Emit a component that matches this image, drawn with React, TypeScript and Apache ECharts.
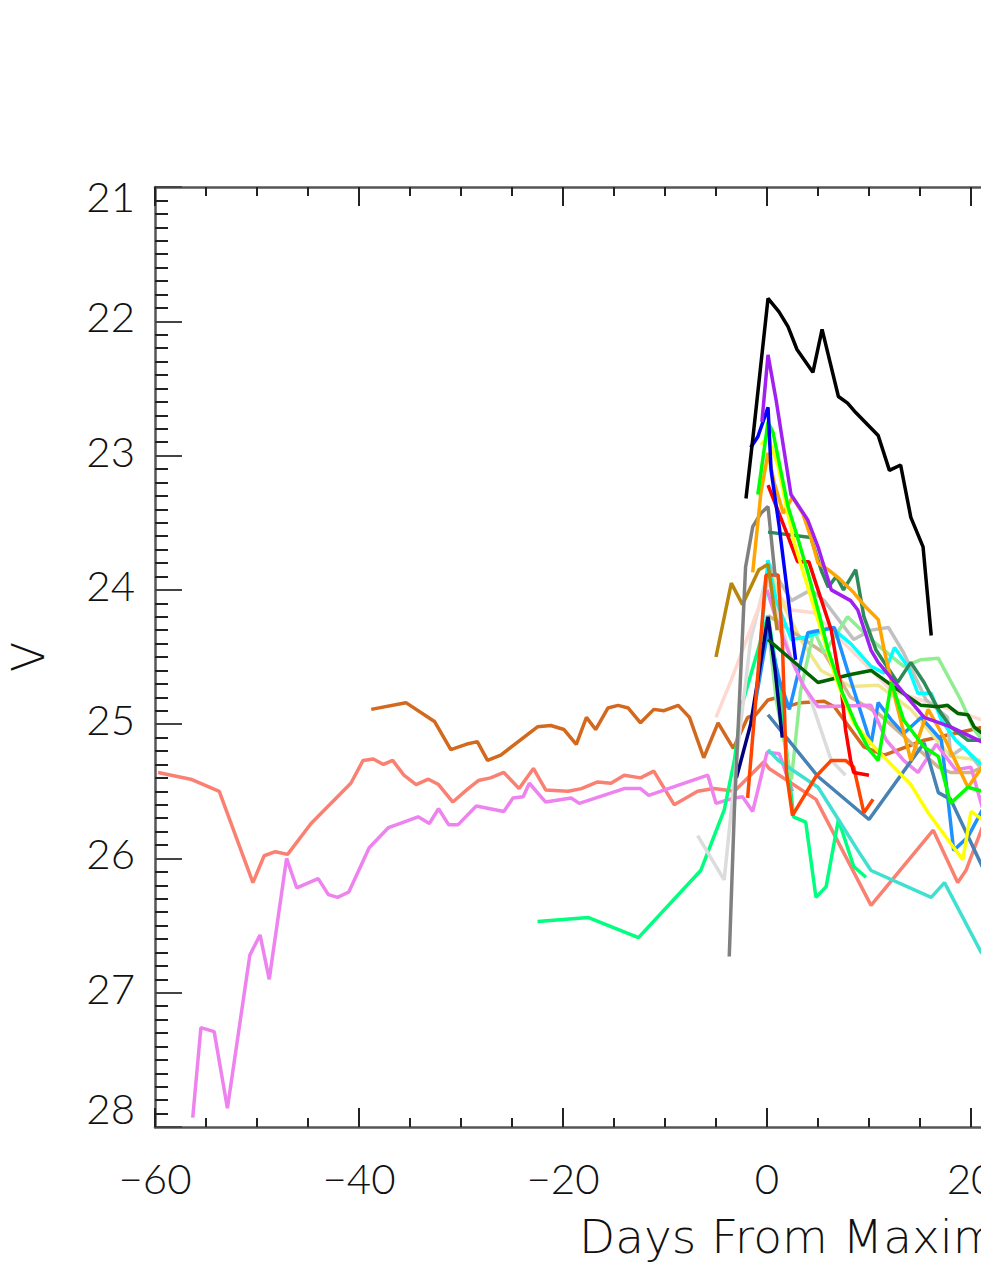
import { useEffect, useRef } from "react";
import * as echarts from "echarts";

// x: days from maximum, y: V magnitude
const xMin = -60;
const xMax = 60;
const yMin = 21;
const yMax = 28;
const xTickLabels = [-60, -40, -20, 0, 20, 40, 60];
const yTickLabels = [21, 22, 23, 24, 25, 26, 27, 28];

const salmon = [[-59.7,25.36],[-56.5,25.41],[-53.7,25.5],[-50.4,26.18],[-49.3,25.98],[-48.2,25.95],[-47.0,25.97],[-44.7,25.74],[-40.8,25.44],[-39.6,25.27],[-38.6,25.26],[-37.6,25.3],[-36.7,25.27],[-35.6,25.38],[-34.4,25.45],[-33.2,25.41],[-32.2,25.45],[-30.8,25.58],[-29.3,25.48],[-28.3,25.42],[-27.1,25.4],[-25.8,25.36],[-24.3,25.48],[-22.9,25.33],[-21.7,25.49],[-19.5,25.5],[-18.2,25.48],[-16.6,25.43],[-15.3,25.44],[-14.0,25.38],[-12.4,25.4],[-11.1,25.35],[-9.1,25.6],[-6.8,25.5],[-5.2,25.48],[-3.2,25.5],[-0.3,25.28],[0.2,25.33],[4.8,25.56],[10.2,26.35],[16.3,25.79],[18.7,26.18],[19.5,26.09],[21.1,25.77],[24,25.6]];
const violet = [[-56.3,27.93],[-55.5,27.26],[-54.2,27.29],[-52.9,27.86],[-50.7,26.72],[-49.7,26.57],[-48.8,26.9],[-47.1,26.0],[-46.1,26.22],[-44.0,26.15],[-43.0,26.27],[-42.1,26.29],[-41.0,26.25],[-39.0,25.92],[-37.1,25.77],[-34.2,25.69],[-33.1,25.74],[-32.2,25.63],[-31.2,25.75],[-30.3,25.75],[-28.5,25.61],[-25.8,25.65],[-24.9,25.55],[-23.9,25.54],[-23.3,25.44],[-21.7,25.58],[-19.2,25.55],[-18.4,25.59],[-14.0,25.48],[-12.4,25.48],[-11.6,25.53],[-5.8,25.38],[-5.0,25.59],[-3.2,25.55],[-2.4,25.54],[-1.4,25.65],[0,25.21],[1.2,25.22],[2.5,25.5]];
const chocolate = [[-38.8,24.89],[-35.4,24.84],[-32.6,24.98],[-31.0,25.19],[-29.5,25.15],[-28.4,25.13],[-27.4,25.27],[-26.1,25.23],[-22.5,25.02],[-21.2,25.01],[-19.9,25.04],[-18.7,25.15],[-17.7,24.95],[-16.8,25.04],[-15.6,24.88],[-14.6,24.86],[-13.6,24.88],[-12.4,24.99],[-11.1,24.89],[-10.1,24.9],[-8.7,24.86],[-7.6,24.95],[-6.2,25.25],[-4.8,24.99],[-3.3,25.18],[-1.9,24.95],[-1.1,24.93],[0.1,24.82],[1.1,24.8],[1.9,24.87],[3.3,24.84],[5.6,24.83],[6.6,24.87],[9.5,25.17],[11.5,25.23],[15.4,25.12],[20.7,25.03],[24,24.98]];
const black = [[-2.06,23.32],[-1.37,22.86],[0.1,21.83],[1.18,21.93],[2.06,22.04],[2.94,22.21],[4.5,22.38],[5.4,22.06],[7.0,22.56],[7.9,22.61],[8.7,22.68],[10.9,22.85],[12.0,23.11],[13.1,23.07],[14.1,23.46],[15.3,23.68],[16.1,24.34]];
const purple = [[-0.5,22.75],[0.1,22.25],[0.9,22.59],[2.35,23.29],[4.0,23.48],[5.0,23.68],[6.3,24.0],[8.2,24.08],[8.9,24.15],[10.2,24.45],[10.9,24.54],[15.4,24.95],[18.0,25.02],[21.0,25.13],[24,25.2]];
const blue = [[-1.6,22.94],[-0.9,22.86],[0.1,22.64],[0.4,23.11],[1.2,23.53],[2.1,24.08],[2.8,24.52]];
const lime = [[-0.9,23.29],[0.1,22.75],[0.6,22.83],[2.06,23.38],[3.0,23.61],[4.0,23.87],[5.0,24.15],[6.0,24.45],[7.3,24.75],[8.7,25.0],[10.0,25.19],[10.9,25.27],[12.2,24.69],[13.4,24.97],[15.4,25.17],[16.8,25.24],[18.0,25.59],[19.7,25.47],[21.1,25.5],[24,25.4]];
const yellow = [[-0.6,22.92],[0.1,22.86],[1.1,23.08],[1.9,23.38],[2.6,23.63],[3.8,23.93],[5.3,24.3],[6.8,24.67],[8.5,24.99],[10.5,25.17],[14.1,25.45],[15.8,25.66],[18.7,25.96],[19.2,26.01],[20.0,25.65],[21.1,25.71],[24,25.6]];
const orange = [[-1.4,23.87],[-0.6,23.28],[0.1,22.98],[0.7,23.2],[1.6,23.43],[2.5,23.31],[3.5,23.43],[4.3,23.61],[5.0,23.8],[6.0,23.85],[7.0,23.91],[8.5,24.02],[9.7,24.13],[10.9,24.22],[11.5,24.45],[12.6,24.82],[14.1,25.27],[15.8,24.89],[17.5,25.12],[19.7,25.47],[21.1,25.32],[24,25.4]];
const red = [[0.1,23.22],[2.1,23.61],[3.0,23.79],[4.1,23.79],[5.0,24.0],[6.3,24.3],[7.3,24.75],[7.7,25.04],[8.2,25.27],[8.5,25.36],[10.0,25.38]];
const orangered = [[-1.9,25.55],[-1.1,24.82],[-0.1,23.89],[1.1,23.89],[1.5,24.37],[1.9,25.36],[2.5,25.68],[4.8,25.39],[6.3,25.27],[7.7,25.27],[8.5,25.32],[9.5,25.66],[10.4,25.56]];
const gray = [[-3.7,26.73],[-3.2,25.64],[-2.1,23.83],[-1.4,23.53],[-0.6,23.43],[0.1,23.38],[0.8,23.9]];
const seagreen = [[0.1,23.57],[4.3,23.61],[5.3,23.85],[6.0,23.98],[6.8,23.9],[7.5,24.0],[8.7,23.85],[9.5,24.2],[10.7,24.45],[12.8,24.69],[14.1,24.54],[15.4,24.69],[16.8,24.89],[18.0,25.02],[19.7,25.12],[21.1,25.12],[24,25.2]];
const goldenrod = [[-5.0,24.5],[-3.5,23.95],[-2.4,24.11],[-0.8,23.85],[0.1,23.81],[1.0,24.3]];
const darkgreen = [[0.1,24.37],[5.0,24.69],[8.2,24.63],[10.2,24.6],[12.2,24.71],[15.1,24.86],[16.8,24.87],[17.7,24.86],[18.7,24.92],[19.7,24.93],[20.3,25.02],[21.1,25.07],[24,25.1]];
const lightgreen = [[0,24.19],[0.9,24.82],[2.4,25.41],[3.3,24.75],[4.6,24.3],[5.6,24.47],[7.9,24.2],[10.2,24.37],[13.4,24.57],[15.1,24.52],[16.8,24.51],[19.0,24.82],[20.3,25.04],[21.1,25.12],[24,25.2]];
const cyan = [[-0.6,24.37],[0.1,23.78],[0.9,24.08],[2.4,24.37],[4.0,24.35],[6.3,24.28],[8.2,24.4],[10.2,24.57],[11.5,24.62],[12.5,24.43],[13.8,24.57],[14.8,24.77],[16.1,24.77],[17.1,24.97],[18.5,25.12],[21,25.3]];
const dodgerblue = [[-1.1,24.82],[0.1,24.3],[1.2,24.67],[2.2,24.89],[4.0,24.32],[6.6,24.28],[7.9,24.6],[10.2,25.15],[10.9,24.84],[12.2,24.97],[13.4,25.07],[15.1,24.95],[17.1,25.12],[18.3,25.94],[19.7,25.84],[21.1,25.64],[24,25.5]];
const steelblue = [[0.1,24.93],[5.0,25.39],[10.0,25.71],[15.4,25.14],[16.8,25.51],[18.0,25.56],[21.1,26.06],[24,26.3]];
const turquoise = [[0.1,25.19],[1.1,25.27],[5.0,25.47],[7.0,25.71],[8.9,25.94],[10.2,26.09],[16.1,26.29],[17.4,26.18],[21.0,26.7],[24,26.9]];
const springgreen = [[-22.5,26.47],[-17.5,26.44],[-12.6,26.59],[-6.5,26.09],[-4.2,25.64],[-3.2,25.27],[-2.5,24.87],[0.1,24.19],[1.4,24.82],[2.6,25.69],[3.8,25.73],[4.8,26.29],[5.8,26.21],[7.0,25.71],[8.5,26.06],[9.7,26.14]];
const gainsboro = [[-6.8,25.83],[-4.2,26.16],[-3.0,25.27],[-1.6,24.37],[0,23.89],[2.4,24.52],[4.3,24.82],[6.3,25.27],[7.7,25.38]];
const silver = [[0,23.78],[2.4,24.08],[4.3,24.0],[5.6,24.08],[8.5,24.37],[10.2,24.3],[11.9,24.28],[13.4,24.47],[15.6,24.82],[17.7,24.95],[18.0,25.24],[19.3,25.17],[21.1,25.34],[24,25.3]];
const mistyrose = [[-5.0,24.95],[-3.5,24.67],[0.1,23.95],[2.4,24.15],[4.6,24.17],[6.3,24.3],[9.2,24.52],[12.2,24.75],[15.1,24.82],[18.0,24.89],[21.1,24.97],[24,25.0]];
const tan = [[0.1,24.19],[5.6,24.47],[8.2,24.8],[10.9,24.92],[13.1,25.07],[16.8,25.32],[18.0,25.36],[20.0,25.36],[21.1,25.32],[24,25.3]];
const khaki = [[0,23.78],[1.4,24.08],[3.3,24.37],[5.3,24.6],[8.2,24.72],[10.9,24.71],[14.1,24.89],[18.0,25.24],[21.1,25.27],[24,25.3]];
const orchid = [[0,24.0],[0.9,24.22],[2.4,24.52],[3.6,24.72],[5.0,24.87],[10.2,24.86],[11.7,25.12],[13.4,25.27],[14.8,25.36],[16.6,25.15],[18.5,25.34],[20.0,25.32],[21.1,25.62],[24,25.5]];
const navy = [[-3.0,25.4],[-1.6,25.0],[0.1,24.2],[0.8,24.6],[1.5,25.1]];

const curves: { name: string; color: string; data: number[][] }[] = [
  { name: "salmon", color: "#FA8072", data: salmon },
  { name: "violet", color: "#EE82EE", data: violet },
  { name: "chocolate", color: "#D2691E", data: chocolate },
  { name: "springgreen", color: "#00FF7F", data: springgreen },
  { name: "gainsboro", color: "#DCDCDC", data: gainsboro },
  { name: "mistyrose", color: "#FFD8D0", data: mistyrose },
  { name: "khaki", color: "#F0E68C", data: khaki },
  { name: "tan", color: "#D2B48C", data: tan },
  { name: "silver", color: "#C0C0C0", data: silver },
  { name: "lightgreen", color: "#90EE90", data: lightgreen },
  { name: "cyan", color: "#00FFFF", data: cyan },
  { name: "dodgerblue", color: "#1E90FF", data: dodgerblue },
  { name: "orchid", color: "#EE82EE", data: orchid },
  { name: "turquoise", color: "#40E0D0", data: turquoise },
  { name: "steelblue", color: "#4682B4", data: steelblue },
  { name: "navy", color: "#000080", data: navy },
  { name: "orangered", color: "#FF4500", data: orangered },
  { name: "goldenrod", color: "#B8860B", data: goldenrod },
  { name: "gray", color: "#808080", data: gray },
  { name: "seagreen", color: "#2E8B57", data: seagreen },
  { name: "darkgreen", color: "#006400", data: darkgreen },
  { name: "red", color: "#FF0000", data: red },
  { name: "orange", color: "#FFA500", data: orange },
  { name: "yellow", color: "#FFFF00", data: yellow },
  { name: "lime", color: "#00FF00", data: lime },
  { name: "blue", color: "#0000FF", data: blue },
  { name: "purple", color: "#A020F0", data: purple },
  { name: "black", color: "#000000", data: black },
];

const tickFont = "Lato";
const titleFont = '"DejaVu Sans Light", "DejaVu Sans ExtraLight", "DejaVu Sans"';

function axisCommon(extra: any) {
  return {
    type: "value",
    splitLine: { show: false },
    minorSplitLine: { show: false },
    axisLine: { show: true, onZero: false, lineStyle: { color: "#555", width: 2.5 } },
    ...extra,
  };
}

export default function App() {
  const ref = useRef<HTMLDivElement>(null);
  useEffect(() => {
    if (!ref.current) return;
    const chart = echarts.init(ref.current, undefined, { renderer: "svg" });
    const labelStyle = {
      fontSize: 42,
      fontFamily: tickFont,
      fontWeight: 300,
      color: "#111",
    };
    const xCommon = {
      min: xMin,
      max: xMax,
      interval: 20,
      axisTick: { show: true, inside: true, length: 19, lineStyle: { color: "#222", width: 2 } },
      minorTick: { show: true, splitNumber: 4, length: 9, lineStyle: { color: "#222", width: 2 } },
    };
    const yCommon = {
      min: yMin,
      max: yMax,
      interval: 1,
      inverse: true,
      axisTick: { show: true, inside: true, length: 27, lineStyle: { color: "#444", width: 2 } },
      minorTick: { show: true, splitNumber: 10, length: 13, lineStyle: { color: "#222", width: 2 } },
    };
    chart.setOption({
      animation: false,
      backgroundColor: "#ffffff",
      grid: { left: 155, top: 187, width: 1224, height: 940, containLabel: false },
      xAxis: [
        axisCommon({
          ...xCommon,
          position: "bottom",
          axisLabel: {
            ...labelStyle,
            margin: 30,
            formatter: (v: number) => (xTickLabels.includes(v) ? String(v).replace("-", "\u2212") : ""),
          },
        }),
        axisCommon({ ...xCommon, position: "top", axisLabel: { show: false } }),
      ],
      yAxis: [
        axisCommon({
          ...yCommon,
          position: "left",
          axisLabel: {
            ...labelStyle,
            margin: 20,
            formatter: (v: number) => {
              if (!yTickLabels.includes(v)) return "";
              if (v === yMin) return "{top|" + v + "}";
              if (v === yMax) return "{bot|" + v + "}";
              return "{mid|" + v + "}";
            },
            rich: {
              top: { ...labelStyle, padding: [18, 0, 0, 0] },
              mid: { ...labelStyle, padding: [0, 0, 10, 0] },
              bot: { ...labelStyle, padding: [0, 0, 38, 0] },
            },
          },
        }),
        axisCommon({ ...yCommon, position: "right", axisLabel: { show: false } }),
      ],
      graphic: [
        {
          type: "text",
          x: 28,
          y: 657,
          rotation: Math.PI / 2,
          style: {
            text: "V",
            fontSize: 44,
            fontFamily: titleFont,
            fontWeight: 200,
            fill: "#111",
            align: "center",
            verticalAlign: "middle",
          },
        },
        {
          type: "text",
          x: 579,
          y: 1236,
          style: {
            text: "Days From Maximum",
            fontSize: 47,
            fontFamily: titleFont,
            fontWeight: 200,
            fill: "#111",
            align: "left",
            verticalAlign: "middle",
          },
        },
      ],
      series: curves.map((c) => ({
        type: "line",
        name: c.name,
        data: c.data,
        xAxisIndex: 0,
        yAxisIndex: 0,
        showSymbol: false,
        symbol: "none",
        clip: true,
        lineStyle: { color: c.color, width: 3.5 },
        itemStyle: { color: c.color },
      })),
    });
    return () => chart.dispose();
  }, []);

  return (
    <div
      style={{
        position: "fixed",
        left: 0,
        top: 0,
        width: 981,
        height: 1269,
        overflow: "hidden",
        background: "#fff",
      }}
    >
      <div ref={ref} style={{ width: 1500, height: 1269 }} />
    </div>
  );
}
